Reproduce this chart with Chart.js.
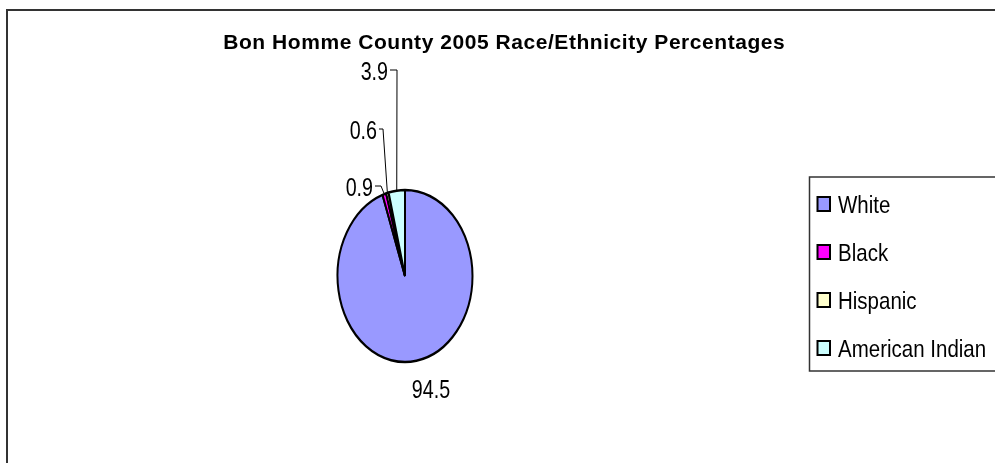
<!DOCTYPE html>
<html>
<head>
<meta charset="utf-8">
<script src="https://cdn.jsdelivr.net/npm/chart.js@4"></script>
<style>
  html, body { margin: 0; padding: 0; background: #fff; }
  #wrap { position: relative; width: 995px; height: 463px; }
</style>
</head>
<body>
<div id="wrap"><canvas id="myChart"></canvas></div>
<script>
// data
let title = 'Bon Homme County 2005 Race/Ethnicity Percentages';
let labels = ['White', 'Black', 'Hispanic', 'American Indian'];
let values = [94.5, 0.9, 0.6, 3.9];
let colors = ['#9999FF', '#FF00FF', '#FFFFCC', '#CCFFFF'];

// the pie is squashed sideways in the picture (ellipse), so stretch it vertically
let STRETCH = 86 / 67.5;

// where the value labels sit (right edge, baseline) and how long the little tick is
let labelSpots = [
    { x: 431, y: 398, align: 'center', tick: 0 },   // 94.5, no leader
    { x: 373, y: 196, align: 'right', tick: 8 },    // 0.9
    { x: 377, y: 139, align: 'right', tick: 6 },    // 0.6
    { x: 388, y: 80, align: 'right', tick: 9 }      // 3.9
];

function drawText(ctx, txt, x, y, size, bold, sy, align, spacing) {
    ctx.save();
    ctx.translate(x, y);
    ctx.scale(1, sy);
    ctx.font = (bold ? 'bold ' : '') + size + 'px "Liberation Sans", Arial, sans-serif';
    ctx.textAlign = align || 'left';
    ctx.textBaseline = 'alphabetic';
    if (spacing) ctx.letterSpacing = spacing + 'px';
    ctx.fillStyle = '#000';
    ctx.fillText(txt, 0, 0);
    ctx.restore();
}

// stretch the arcs into an ellipse around the pie centre
let ellipsePlugin = {
    id: 'ellipse',
    beforeDatasetsDraw: function(chart) {
        let arc = chart.getDatasetMeta(0).data[0];
        let ctx = chart.ctx;
        ctx.save();
        ctx.translate(arc.x, arc.y);
        ctx.scale(1, STRETCH);
        ctx.translate(-arc.x, -arc.y);
    },
    afterDatasetsDraw: function(chart) {
        chart.ctx.restore();
    }
};

// frame, title, value labels with leaders, legend
let decorPlugin = {
    id: 'decor',
    beforeDraw: function(chart) {
        let ctx = chart.ctx;
        ctx.save();
        ctx.fillStyle = '#fff';
        ctx.fillRect(0, 0, chart.width, chart.height);
        ctx.strokeStyle = '#333';
        ctx.lineWidth = 2;
        ctx.beginPath();
        ctx.moveTo(7, chart.height + 2);
        ctx.lineTo(7, 10);
        ctx.lineTo(chart.width + 2, 10);
        ctx.stroke();
        ctx.restore();
    },
    afterDraw: function(chart) {
        let ctx = chart.ctx;
        let meta = chart.getDatasetMeta(0);

        // title, fitted to its width in the picture
        ctx.save();
        ctx.font = 'bold 21px "Liberation Sans", Arial, sans-serif';
        let w = ctx.measureText(title).width;
        ctx.restore();
        let spacing = Math.max(0, (562 - w) / title.length);
        drawText(ctx, title, 504 + spacing / 2, 49, 21, true, 0.97, 'center', spacing);

        // value labels
        meta.data.forEach(function(arc, i) {
            let spot = labelSpots[i];
            let txt = values[i].toFixed(1);
            drawText(ctx, txt, spot.x, spot.y, 19.7, false, 1.27, spot.align);
            if (spot.tick > 0) {
                let mid = (arc.startAngle + arc.endAngle) / 2;
                let ax = arc.x + Math.cos(mid) * arc.outerRadius;
                let ay = arc.y + Math.sin(mid) * arc.outerRadius * STRETCH;
                let ey = spot.y - 10;
                ctx.save();
                ctx.strokeStyle = '#000';
                ctx.lineWidth = 1;
                ctx.beginPath();
                ctx.moveTo(spot.x + 2, ey);
                ctx.lineTo(spot.x + spot.tick, ey);
                ctx.lineTo(ax, ay);
                ctx.stroke();
                ctx.restore();
            }
        });

        // legend box
        ctx.save();
        ctx.strokeStyle = '#333';
        ctx.lineWidth = 1.5;
        ctx.fillStyle = '#fff';
        ctx.beginPath();
        ctx.rect(809.5, 177, 200, 194);
        ctx.fill();
        ctx.stroke();
        ctx.restore();
        labels.forEach(function(lab, i) {
            let base = 212.5 + i * 48;
            ctx.save();
            ctx.fillStyle = colors[i];
            ctx.strokeStyle = '#000';
            ctx.lineWidth = 2;
            ctx.fillRect(817.5, base - 15.5, 12.5, 14);
            ctx.strokeRect(817.5, base - 15.5, 12.5, 14);
            ctx.restore();
            drawText(ctx, lab, 838, base, 20.5, false, 1.2, 'left');
        });
    }
};

let data = {
    labels: labels,
    datasets: [{
        data: values,
        backgroundColor: colors,
        borderColor: '#000',
        borderWidth: 2
    }]
};

let config = {
    type: 'pie',
    data: data,
    options: {
        responsive: true,
        maintainAspectRatio: false,
        animation: false,
        devicePixelRatio: 1,
        layout: {
            padding: { left: 336.5, right: 521.5, top: 207.5, bottom: 118.5 }
        },
        plugins: {
            legend: { display: false },
            title: { display: false },
            tooltip: { enabled: false }
        }
    },
    plugins: [ellipsePlugin, decorPlugin]
};

let myChart = new Chart(document.getElementById('myChart'), config);
</script>
</body>
</html>
